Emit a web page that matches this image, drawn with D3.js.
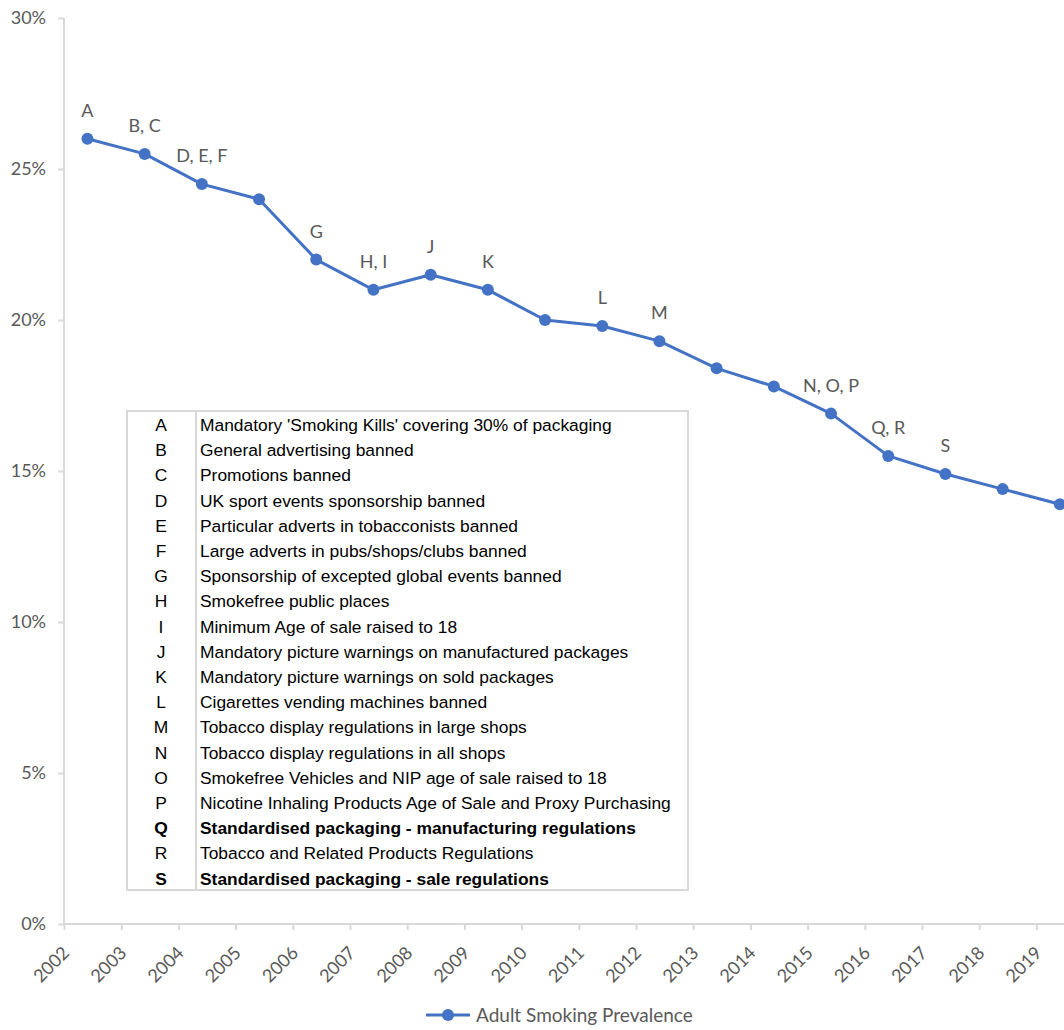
<!DOCTYPE html>
<html lang="en">
<head>
<meta charset="utf-8">
<title>Adult Smoking Prevalence</title>
<script src="https://d3js.org/d3.v7.min.js"></script>
<style>
  body { margin: 0; background: #fff; }
  svg { display: block; }
  .axis text { font-family: Lato, "Open Sans", sans-serif; font-size: 18px; fill: #595959; }
  .axis path, .axis line { stroke: #d9d9d9; stroke-width: 2px; }
  .ptlabel { font-family: Lato, "Open Sans", sans-serif; font-size: 18px; fill: #595959; }
  .legend text { font-family: Lato, "Open Sans", sans-serif; font-size: 19px; fill: #595959; }
  .tbl text { font-family: "Liberation Sans", Arial, sans-serif; font-size: 17.4px; fill: #000; }
</style>
</head>
<body>
<svg width="1064" height="1030"></svg>
<script>
// data
var years = [2002, 2003, 2004, 2005, 2006, 2007, 2008, 2009, 2010, 2011, 2012, 2013, 2014, 2015, 2016, 2017, 2018, 2019];
var prevalence = [26, 25.5, 24.5, 24, 22, 21, 21.5, 21, 20, 19.8, 19.3, 18.4, 17.8, 16.9, 15.5, 14.9, 14.4, 13.9];
var pointLabels = ["A", "B, C", "D, E, F", "", "G", "H, I", "J", "K", "", "L", "M", "", "", "N, O, P", "Q, R", "S", "", ""];
var yTicks = [0, 5, 10, 15, 20, 25, 30];
var codes = ["A","B","C","D","E","F","G","H","I","J","K","L","M","N","O","P","Q","R","S"];
var policies = [
  "Mandatory 'Smoking Kills' covering 30% of packaging",
  "General advertising banned",
  "Promotions banned",
  "UK sport events sponsorship banned",
  "Particular adverts in tobacconists banned",
  "Large adverts in pubs/shops/clubs banned",
  "Sponsorship of excepted global events banned",
  "Smokefree public places",
  "Minimum Age of sale raised to 18",
  "Mandatory picture warnings on manufactured packages",
  "Mandatory picture warnings on sold packages",
  "Cigarettes vending machines banned",
  "Tobacco display regulations in large shops",
  "Tobacco display regulations in all shops",
  "Smokefree Vehicles and NIP age of sale raised to 18",
  "Nicotine Inhaling Products Age of Sale and Proxy Purchasing",
  "Standardised packaging - manufacturing regulations",
  "Tobacco and Related Products Regulations",
  "Standardised packaging - sale regulations"
];
var boldCodes = ["Q", "S"];
var seriesName = "Adult Smoking Prevalence";

var svg = d3.select("svg");
var color = "#4472c4";
var plotLeft = 64, plotTop = 18, plotBottom = 924;
var step = 57.2;
var pointOffset = 0.41; // points sit a bit after each year's tick

var x = d3.scaleLinear().domain([2002, 2020]).range([plotLeft, plotLeft + 18 * step]);
var y = d3.scaleLinear().domain([0, 30]).range([plotBottom, plotTop]);

// y axis
var yAxis = svg.append("g").attr("class", "axis")
  .attr("transform", "translate(" + plotLeft + ",0)")
  .call(d3.axisLeft(y).tickValues(yTicks).tickSize(6).tickPadding(12)
    .tickFormat(function(d) { return d + "%"; }));
yAxis.select(".domain").attr("d", "M0," + plotTop + "V" + plotBottom);

// x axis
var xAxis = svg.append("g").attr("class", "axis")
  .attr("transform", "translate(0," + plotBottom + ")")
  .call(d3.axisBottom(x).tickValues(years).tickSize(6).tickFormat(d3.format("d")));
xAxis.select(".domain").attr("d", "M" + plotLeft + ",0H1064");
xAxis.selectAll("text")
  .attr("text-anchor", "end")
  .attr("dy", null).attr("y", 0)
  .attr("transform", "translate(6,30) rotate(-45)");

// line + markers
var pts = years.map(function(yr, i) { return { x: yr + pointOffset, v: prevalence[i], lab: pointLabels[i] }; });
var line = d3.line().x(function(d) { return x(d.x); }).y(function(d) { return y(d.v); });
svg.append("path").datum(pts)
  .attr("d", line).attr("fill", "none")
  .attr("stroke", color).attr("stroke-width", 3).attr("stroke-linejoin", "round");
svg.selectAll(".pt").data(pts).enter().append("circle")
  .attr("class", "pt")
  .attr("cx", function(d) { return x(d.x); })
  .attr("cy", function(d) { return y(d.v); })
  .attr("r", 6).attr("fill", color);
svg.selectAll(".ptlabel").data(pts.filter(function(d) { return d.lab; })).enter().append("text")
  .attr("class", "ptlabel")
  .attr("x", function(d) { return x(d.x); })
  .attr("y", function(d) { return y(d.v) - 22; })
  .attr("text-anchor", "middle")
  .text(function(d) { return d.lab; });

// policy table
var tbl = svg.append("g").attr("class", "tbl");
var tx = 127, ty = 411, tw = 561, th = 479, rowH = 25.2;
tbl.append("rect").attr("x", tx).attr("y", ty).attr("width", tw).attr("height", th)
  .attr("fill", "#fff").attr("stroke", "#d9d9d9").attr("stroke-width", 2);
tbl.append("line").attr("x1", 196).attr("x2", 196).attr("y1", ty).attr("y2", ty + th)
  .attr("stroke", "#d9d9d9").attr("stroke-width", 2);
var rows = tbl.selectAll(".row").data(codes).enter().append("g")
  .attr("transform", function(d, i) { return "translate(0," + (425 + i * rowH) + ")"; });
rows.append("text").attr("x", 161).attr("dy", "0.35em").attr("text-anchor", "middle")
  .attr("font-weight", function(d) { return boldCodes.indexOf(d) >= 0 ? "bold" : null; })
  .text(function(d) { return d; });
rows.append("text").attr("x", 200).attr("dy", "0.35em")
  .attr("font-weight", function(d) { return boldCodes.indexOf(d) >= 0 ? "bold" : null; })
  .text(function(d, i) { return policies[i]; });

// legend
var lg = svg.append("g").attr("class", "legend").attr("transform", "translate(426,1015)");
lg.append("line").attr("x1", 0).attr("x2", 44).attr("stroke", color).attr("stroke-width", 3);
lg.append("circle").attr("cx", 22).attr("r", 6).attr("fill", color);
lg.append("text").attr("x", 50).attr("dy", "0.35em").text(seriesName);
</script>
</body>
</html>
